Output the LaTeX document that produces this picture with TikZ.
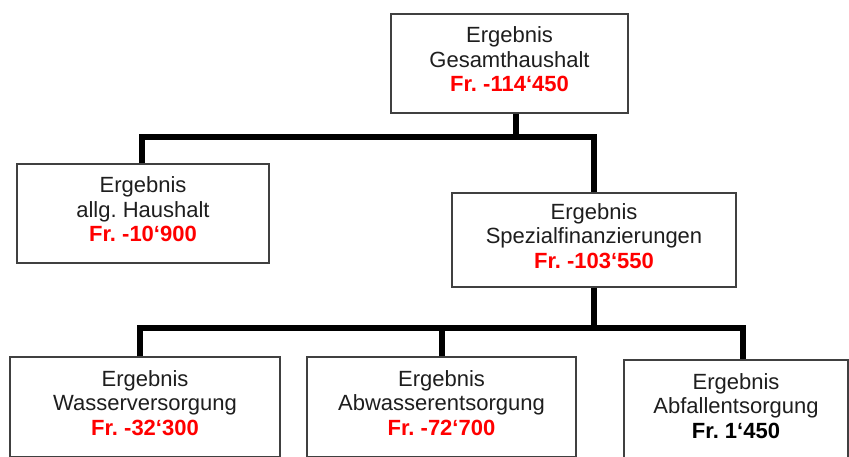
\documentclass[tikz,border=0pt]{standalone}
\usepackage{fontspec}
\setmainfont{Liberation Sans}
\frenchspacing
\definecolor{boxline}{RGB}{64,64,64}
\definecolor{txt}{RGB}{30,30,30}
\definecolor{neg}{RGB}{255,0,0}
\newcommand{\lastdp}{\rule[-8.8pt]{0pt}{0pt}}
\begin{document}
\begin{tikzpicture}[x=1pt,y=-1pt,
  box/.style={draw=boxline, line width=1.3pt, rectangle, align=center, inner sep=0pt,
    text=txt, font=\fontsize{22}{24.5}\selectfont\frenchspacing},
  conn/.style={line width=6.5pt, line join=miter, draw=black}]
\useasboundingbox[fill=white] (0,0) rectangle (849,456);
\node[box, minimum width=237pt, minimum height=99pt] (top) at (509.5,63.5)
  {Ergebnis\\Gesamthaushalt\\\textbf{\color{neg}Fr. -114‘450}\lastdp};
\node[box, minimum width=252pt, minimum height=99pt] (left) at (143,213.5)
  {Ergebnis\\allg. Haushalt\\\textbf{\color{neg}Fr. -10‘900}\lastdp};
\node[box, minimum width=284pt, minimum height=94pt] (spez) at (594,240)
  {Ergebnis\\Spezialfinanzierungen\\\textbf{\color{neg}Fr. -103‘550}\lastdp};
\node[box, minimum width=270pt, minimum height=100pt] (wv) at (145,407)
  {Ergebnis\\Wasserversorgung\\\textbf{\color{neg}Fr. -32‘300}\lastdp};
\node[box, minimum width=269pt, minimum height=100pt] (aw) at (441.5,407)
  {Ergebnis\\Abwasserentsorgung\\\textbf{\color{neg}Fr. -72‘700}\lastdp};
\node[box, minimum width=224pt, minimum height=100pt] (af) at (736,410)
  {Ergebnis\\Abfallentsorgung\\\textbf{\color{black}Fr. 1‘450}\lastdp};
\coordinate (j0) at (516,137);
\coordinate (jl) at (142,137);
\coordinate (jr) at (594,137);
\draw[conn] (top.south -| j0) -- (j0);
\draw[conn] (left.north -| jl) |- (jr) -- (spez.north);
\coordinate (k1) at (140,328);
\coordinate (k2) at (442,328);
\coordinate (k3) at (743,328);
\draw[conn] (wv.north -| k1) |- (k3) -- (af.north -| k3);
\draw[conn] (spez.south) -- (spez.south |- k1);
\draw[conn] (aw.north -| k2) -- (k2);
\end{tikzpicture}
\end{document}
